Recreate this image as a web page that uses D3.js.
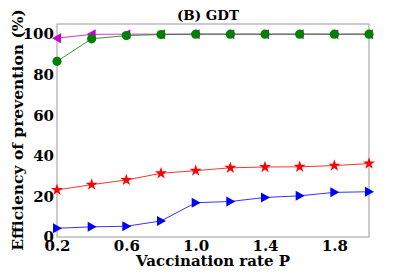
<!DOCTYPE html>
<html><head><meta charset="utf-8">
<script src="https://cdn.jsdelivr.net/npm/d3@7"></script>
<style>body{margin:0;background:#fff}svg{display:block}</style>
</head><body>
<script>
const xs = [0.2,0.4,0.6,0.8,1.0,1.2,1.4,1.6,1.8,2.0];
const magenta = [98.0,99.9,100,100,100,100,100,100,100,100];
const green = [86.6,97.7,99.3,99.8,100,100,100,100,100,100];
const red = [23.2,25.8,28.1,31.4,32.7,34.1,34.5,34.6,35.2,36.2];
const blue = [4.3,5.0,5.3,7.9,16.9,17.5,19.5,20.3,22.0,22.3];
const xTicks = [0.2,0.6,1.0,1.4,1.8];
const yTicks = [0,20,40,60,80,100];

const W=411,H=273, m={l:57,r:42,t:24,b:36};
const svg=d3.select("body").append("svg").attr("width",W).attr("height",H);
const x=d3.scaleLinear().domain([0.2,2.0]).range([m.l,W-m.r]);
const y=d3.scaleLinear().domain([0,105]).range([H-m.b,m.t]);
const font="'DejaVu Serif', serif";

const gx=svg.append("g").attr("transform",`translate(0,${H-m.b})`)
 .call(d3.axisBottom(x).tickValues(xTicks).tickFormat(d3.format(".1f")).tickSize(0).tickPadding(3));
const gy=svg.append("g").attr("transform",`translate(${m.l},0)`)
 .call(d3.axisLeft(y).tickValues(yTicks).tickFormat(d3.format("d")).tickSize(0).tickPadding(3));
[gx,gy].forEach(g=>{g.select(".domain").remove();g.selectAll("text").attr("font-family",font).attr("font-weight","bold").attr("font-size",15).attr("fill","#000");});

svg.append("rect").attr("x",m.l).attr("y",m.t).attr("width",W-m.l-m.r).attr("height",H-m.t-m.b)
 .attr("fill","none").attr("stroke","#999").attr("stroke-width",1);

function series(vals,color,shape){
  const line=d3.line().x((d,i)=>x(xs[i])).y(d=>y(d));
  svg.append("path").datum(vals).attr("d",line).attr("fill","none").attr("stroke",color).attr("stroke-width",1).attr("opacity",0.8);
  const g=svg.append("g");
  vals.forEach((v,i)=>{
    const cx=x(xs[i]), cy=y(v);
    if(shape==="circle") g.append("circle").attr("cx",cx).attr("cy",cy).attr("r",4.6).attr("fill",color);
    else if(shape==="right") g.append("path").attr("d",`M${cx+5},${cy}L${cx-4},${cy-5}L${cx-4},${cy+5}Z`).attr("fill",color);
    else if(shape==="left") g.append("path").attr("d",`M${cx-5},${cy}L${cx+4},${cy-5}L${cx+4},${cy+5}Z`).attr("fill",color);
    else if(shape==="star") g.append("path").attr("d",d3.symbol(d3.symbolStar,45)()).attr("transform",`translate(${cx},${cy})`).attr("fill",color);
  });
}
series(magenta,"#cc00cc","left");
series(green,"green","circle");
series(red,"red","star");
series(blue,"blue","right");

svg.append("text").attr("x",208).attr("y",20).attr("text-anchor","middle").attr("font-family",font).attr("font-weight","bold").attr("font-size",13.5).text("(B) GDT");
svg.append("text").attr("x",213).attr("y",266).attr("text-anchor","middle").attr("font-family",font).attr("font-weight","bold").attr("font-size",15).text("Vaccination rate P");
svg.append("text").attr("transform",`translate(23,130) rotate(-90)`).attr("text-anchor","middle").attr("font-family",font).attr("font-weight","bold").attr("font-size",15.5).text("Efficiency of prevention (%)");
</script>
</body></html>
